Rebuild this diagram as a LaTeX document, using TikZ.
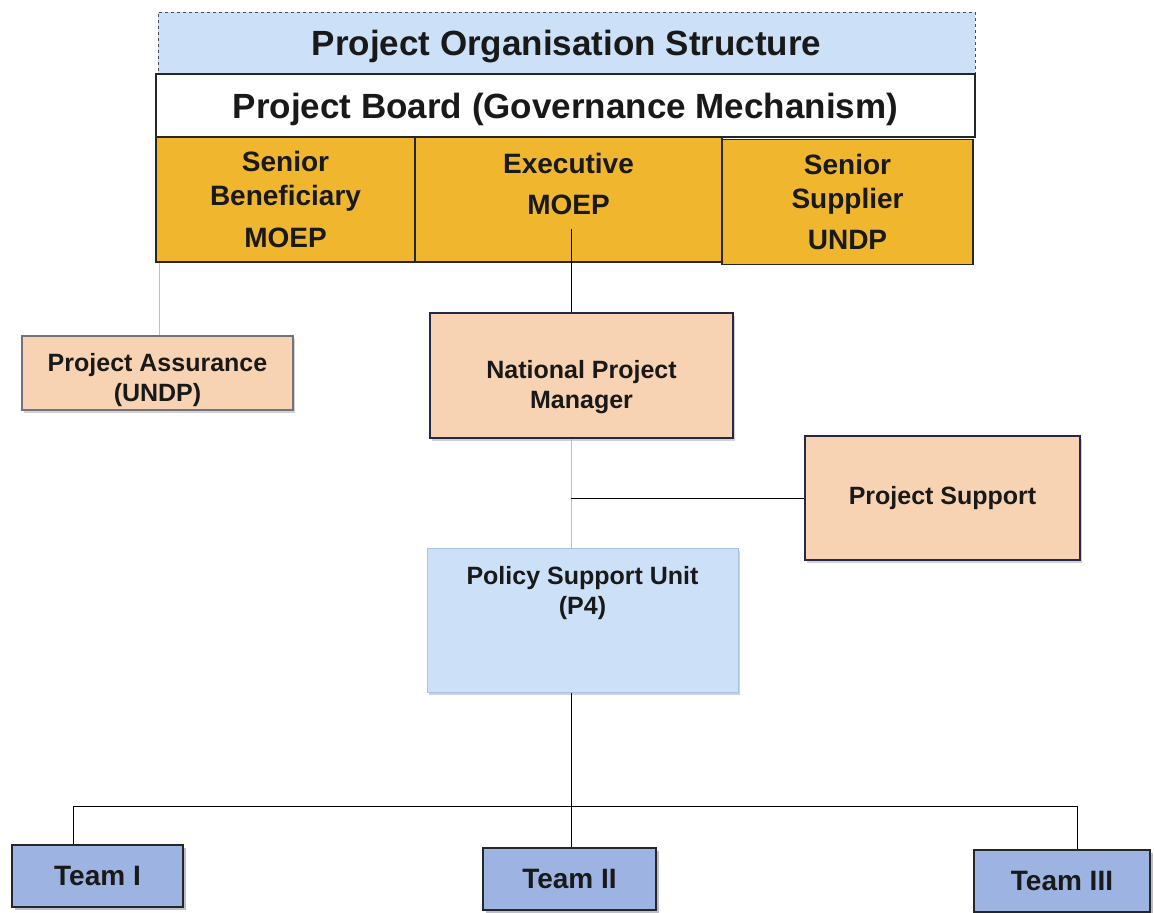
\documentclass[tikz,border=0pt]{standalone}
\usepackage{fontspec}
\setmainfont{Liberation Sans}
\usetikzlibrary{positioning,calc,shadows}
\definecolor{PG}{HTML}{EFB62E}
\definecolor{PP}{HTML}{F8D3B3}
\definecolor{PL}{HTML}{CCE0F8}
\definecolor{PT}{HTML}{9DB3E2}
\definecolor{PN}{HTML}{26284A}
\definecolor{PS}{HTML}{A9C3E6}
% two centred lines set a little below the middle of their box
\newcommand{\lowered}[2]{\raisebox{-#1}[\height][\depth]{\begin{tabular}{@{}c@{}}#2\end{tabular}}}

\tikzset{
  headbox/.style={draw=black!85, line width=1.2pt, minimum height=62pt, text height=27pt, text depth=2pt,
    font=\fontsize{35}{42}\selectfont\bfseries},
  cell/.style={draw=black!85, line width=1.2pt, fill=PG, font=\fontsize{28}{33.6}\selectfont\bfseries,
    align=center, inner sep=0pt, minimum height=125pt},
  unitbox/.style={draw=PN, line width=2pt, fill=PP, font=\fontsize{25}{30}\selectfont\bfseries,
    align=center, inner sep=0pt, drop shadow={shadow xshift=2pt, shadow yshift=-3pt, fill=black!30, opacity=.6}},
  teambox/.style={draw=black!85, line width=1.6pt, fill=PT, font=\fontsize{28}{33.6}\selectfont\bfseries,
    inner sep=0pt, minimum width=173pt, minimum height=62pt,
    drop shadow={shadow xshift=3pt, shadow yshift=-3pt, fill=PN!60, opacity=.5}},
  link/.style={draw=black, line width=1pt},
  thin link/.style={draw=PS, line width=.8pt}
}

\begin{document}
\begin{tikzpicture}[x=1pt, y=-1pt, text=black!90]
  \useasboundingbox (0,0) rectangle (1154,913);

  % header and board
  \node[headbox, draw=black!70, dashed, line width=.9pt, fill=PL, minimum width=817pt] (title) at (566.5,43) {Project Organisation Structure};
  \node[headbox, fill=white, minimum width=819pt, minimum height=63pt] (board) at (565.5,105.5) {Project Board (Governance Mechanism)};

  % board members
  \node[cell, minimum width=259pt] (benef) at (285.5,199.5) {Senior\\Beneficiary\\[8pt]MOEP};
  \node[cell, minimum width=307pt] (exec) at (568.5,199.5) {Executive\\[8pt]MOEP\\[-2pt]~};
  \node[cell, minimum width=251pt] (suppl) at (847.5,202) {Senior\\Supplier\\[8pt]UNDP};

  % management level
  \node[unitbox, draw=black!50!PN!60, minimum width=271pt, minimum height=74pt] (assur) at (157.5,373) {\lowered{7pt}{Project Assurance\\(UNDP)}};
  \node[unitbox, minimum width=303pt, minimum height=125pt] (npm) at (581.5,375.5) {\lowered{12pt}{National Project\\Manager}};
  \node[unitbox, minimum width=275pt, minimum height=124pt] (support) at (942.5,498) {Project Support};
  \node[unitbox, draw=PS, line width=1pt, fill=PL, minimum width=311pt, minimum height=144pt] (psu) at (582.5,620) {Policy Support Unit\\(P4)\\[30pt]~};

  % teams
  \node[teambox, minimum width=171pt] (teamA) at (97.5,876) {Team I};
  \node[teambox] (teamB) at (569.5,879) {Team II};
  \node[teambox, minimum width=176pt] (teamC) at (1062,881) {Team III};

  \coordinate (spine) at (571,0);
  \coordinate (bus) at (0,806);

  % connectors
  \draw[link] ([yshift=34pt]exec.south -| spine) -- (npm.north -| spine);
  \draw[thin link] (assur.north -| benef.west) ++(4,0) -- ($(benef.south west)+(4,0)$);
  \draw[thin link] (npm.south -| spine) -- (psu.north -| spine);
  \draw[link] (spine |- support.west) -- (support.west);
  \draw[link] (psu.south -| spine) -- (teamB.north -| spine);
  \draw[link] ([xshift=-24pt]teamA.north) |- ([xshift=15pt]teamC.north |- bus) -- ([xshift=15pt]teamC.north);
\end{tikzpicture}
\end{document}
